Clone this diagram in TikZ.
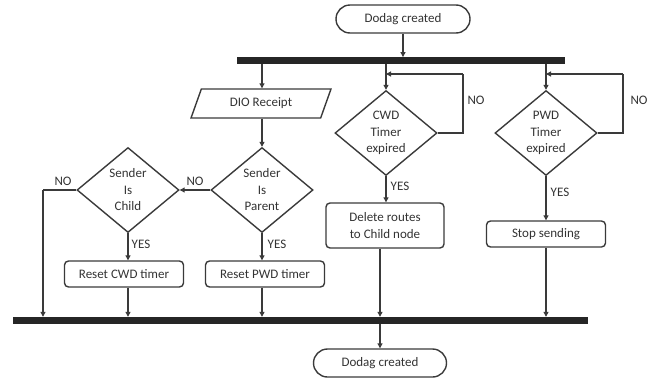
\documentclass[tikz,border=0pt]{standalone}
\usepackage{fontspec}
\setmainfont{Carlito}
\usetikzlibrary{shapes.geometric,arrows.meta}
\definecolor{ln}{HTML}{3A3A3A}
\definecolor{tx}{HTML}{333333}
\begin{document}
\begin{tikzpicture}[x=1pt,y=-1pt,
  font=\fontsize{13}{16.5}\selectfont, text=tx,
  conn/.style={draw=ln,line width=1.1pt,-{Triangle[length=5pt,width=5pt]}},
  seg/.style={draw=ln,line width=1.1pt},
  term/.style={draw=ln,line width=1.4pt,rectangle,rounded corners=14pt,minimum width=134pt,minimum height=28pt,inner sep=0pt},
  procbox/.style={draw=ln,line width=1.4pt,rectangle,rounded corners=4pt,minimum width=119pt,minimum height=26pt,inner sep=0pt,align=center},
  dec/.style={draw=ln,line width=1.4pt,diamond,aspect=1.2,minimum width=102pt,minimum height=85pt,inner sep=0pt,align=center},
  io/.style={draw=ln,line width=1.4pt,trapezium,trapezium left angle=64,trapezium right angle=116,trapezium stretches=true,minimum width=140pt,minimum height=29pt,inner sep=0pt},
  barbox/.style={fill=black!85,draw=none,rectangle,inner sep=0pt},
  lbl/.style={inner sep=0pt}
]
\useasboundingbox (0,0) rectangle (656,378);

\node[term] (start) at (403,19) {Dodag created};
\node[barbox,minimum width=328pt,minimum height=6.5pt] (bar1) at (401,60.5) {};
\node[io] (dio) at (261,103.5) {DIO Receipt};
\node[dec] (parent) at (262,190) {Sender\\Is\\Parent};
\node[dec] (child) at (128,190) {Sender\\Is\\Child};
\node[procbox] (rcwd) at (124,274) {Reset CWD timer};
\node[procbox] (rpwd) at (265,274) {Reset PWD timer};
\node[dec] (cwd) at (386,133) {CWD\\Timer\\expired};
\node[procbox,minimum width=118pt,minimum height=45pt] (del) at (385,225.5) {Delete routes\\to Child node};
\node[dec] (pwd) at (546,133) {PWD\\Timer\\expired};
\node[procbox] (stop) at (546,234) {Stop sending};
\node[barbox,minimum width=575pt,minimum height=7pt] (bar2) at (300.5,320.5) {};
\node[term,minimum width=133pt] (end) at (380,363) {Dodag created};

\coordinate (c1) at (43,190);
\coordinate (l1) at (463,74);
\coordinate (l2) at (623,74);

% top
\draw[conn] (start.south) -- (start.south |- bar1.north);
\draw[conn] (bar1.south -| parent.north) -- (dio.north -| parent.north);
\draw[conn] (dio.south -| parent.north) -- (parent.north);
\draw[conn] (bar1.south -| cwd.north) -- (cwd.north);
\draw[conn] (bar1.south -| pwd.north) -- (pwd.north);

% sender branch
\draw[conn] (parent.west) -- (child.east);
\node[lbl] (no1) at (195,181) {NO};
\draw[seg] (child.west) -- (c1);
\draw[conn] (c1) -- (c1 |- bar2.north);
\node[lbl] (no2) at (63,181) {NO};
\draw[conn] (child.south) -- (child.south |- rcwd.north);
\node[lbl] (yes1) at (141,244) {YES};
\draw[conn] (parent.south) -- (parent.south |- rpwd.north);
\node[lbl] (yes2) at (277,244) {YES};
\draw[conn] (rcwd.south -| child.south) -- (child.south |- bar2.north);
\draw[conn] (rpwd.south -| parent.south) -- (parent.south |- bar2.north);

% CWD
\draw[seg] (cwd.east) -| (l1);
\draw[conn] (l1) -- (l1 -| cwd.north);
\node[lbl] (no3) at (476,100) {NO};
\draw[conn] (cwd.south) -- (del.north -| cwd.south);
\node[lbl] (yes3) at (400,186) {YES};
\draw[conn] (del.south -| end.north) -- (end.north |- bar2.north);

% PWD
\draw[seg] (pwd.east) -| (l2);
\draw[conn] (l2) -- (l2 -| pwd.north);
\node[lbl] (no4) at (639,100) {NO};
\draw[conn] (pwd.south) -- (stop.north);
\node[lbl] (yes4) at (560,192) {YES};
\draw[conn] (stop.south) -- (stop.south |- bar2.north);

% end
\draw[conn] (bar2.south -| end.north) -- (end.north);
\end{tikzpicture}
\end{document}
